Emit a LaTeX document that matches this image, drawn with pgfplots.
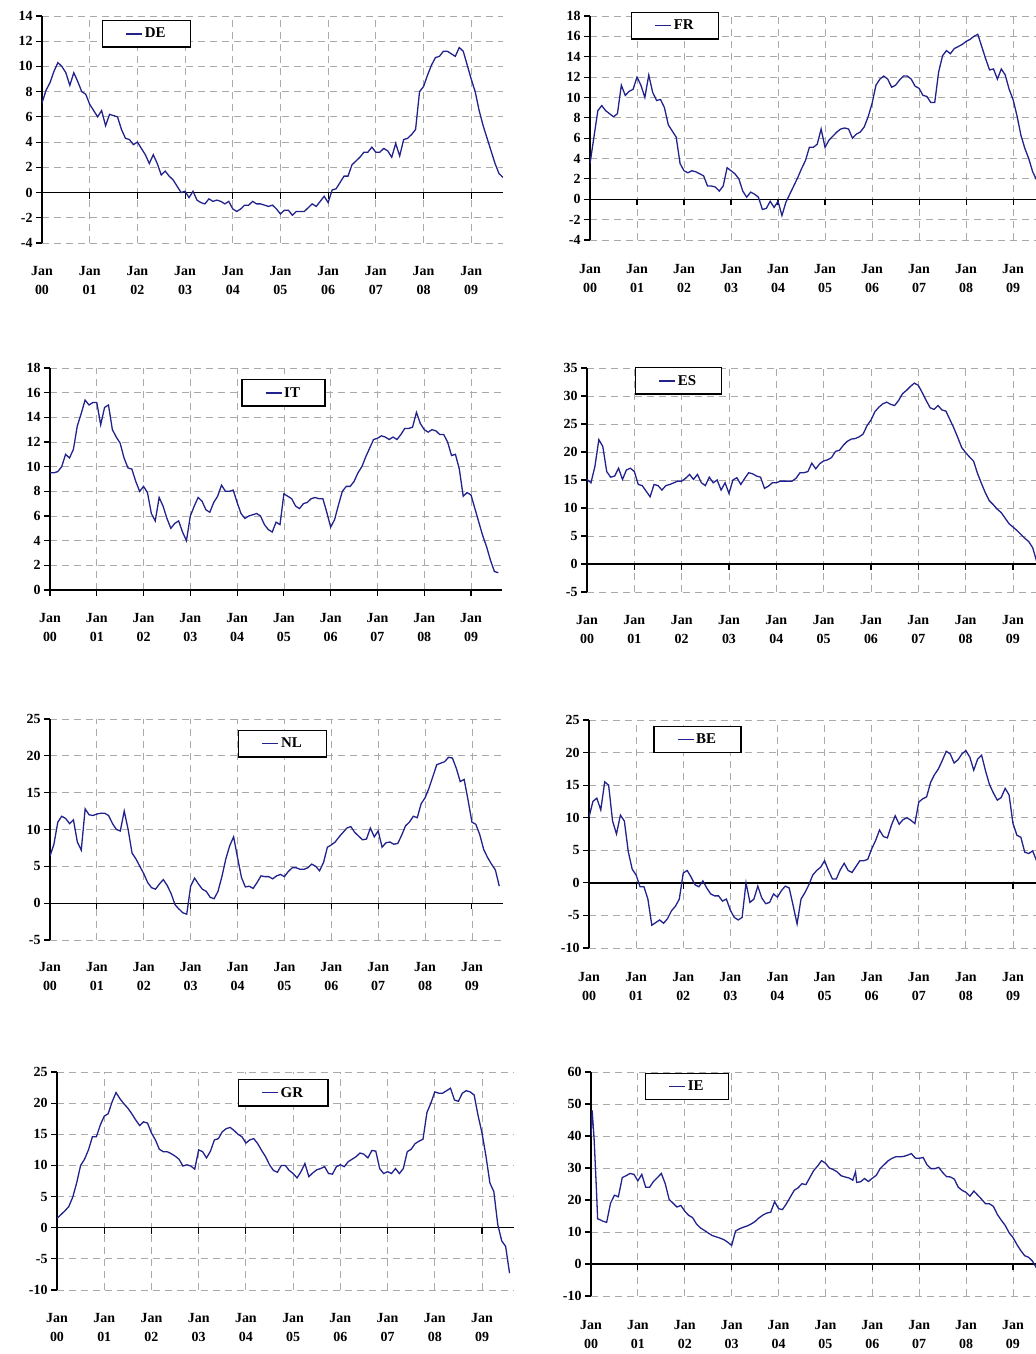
\documentclass[border=0pt]{standalone}
\usepackage{fontspec}
\setmainfont{Liberation Serif}
\usepackage{pgfplots}
\usepackage{pgfplotstable}
\pgfplotsset{compat=1.18}

\definecolor{serie}{RGB}{34,34,140}
\definecolor{gridgray}{RGB}{170,170,170}

% monthly values, month 0 = Jan 2000
\pgfplotstableread{
m   DE    FR    IT    ES    NL    BE    GR
0   7.1   3.5   9.5   15.1  6.4   10.1  1.5
1   8.1   6.1   9.5   14.5  8.0   12.5  2.1
2   8.7   8.7   9.6   17.4  11.0  13.0  2.7
3   9.6   9.2   10.0  22.2  11.8  11.2  3.4
4   10.3  8.7   11.0  21.0  11.5  15.5  4.9
5   10.0  8.4   10.7  16.5  10.8  15.0  7.2
6   9.5   8.1   11.4  15.5  11.3  9.5   10.0
7   8.5   8.4   13.3  15.7  8.3   7.5   11.0
8   9.5   11.2  14.3  17.1  7.2   10.4  12.5
9   8.8   10.2  15.4  15.1  12.8  9.5   14.6
10  8.0   10.6  15.0  16.8  12.0  4.8   14.6
11  7.8   10.8  15.2  17.1  11.9  2.1   16.5
12  7.0   12.0  15.2  16.5  12.1  1.2   17.9
13  6.5   11.2  13.4  14.2  12.2  -0.6  18.3
14  6.0   10.0  14.8  14.0  12.2  -0.6  20.2
15  6.5   12.2  15.0  13.0  11.9  -2.5  21.7
16  5.3   10.5  13.0  12.0  10.8  -6.5  20.7
17  6.2   9.7   12.4  14.2  10.0  -6.1  19.9
18  6.1   9.8   11.9  14.0  9.8   -5.7  19.2
19  6.0   9.0   10.7  13.2  12.5  -6.2  18.3
20  5.0   7.3   9.9   14.0  10.0  -5.5  17.3
21  4.3   6.7   9.8   14.2  6.8   -4.3  16.4
22  4.2   6.1   8.8   14.5  6.0   -3.6  17.0
23  3.8   3.5   8.0   14.8  5.0   -2.5  16.8
24  4.0   2.8   8.4   14.8  4.0   1.5   15.2
25  3.5   2.6   7.9   15.3  2.8   1.9   14.1
26  3.0   2.8   6.2   16.0  2.1   0.9   12.6
27  2.3   2.7   5.6   15.1  1.9   -0.3  12.2
28  3.0   2.5   7.5   16.0  2.6   -0.6  12.2
29  2.3   2.3   6.8   14.5  3.2   0.3   11.9
30  1.4   1.3   5.8   14.0  2.4   -0.8  11.5
31  1.7   1.3   5.0   15.5  1.3   -1.7  11.0
32  1.3   1.2   5.4   14.5  -0.2  -2.0  9.9
33  1.0   0.8   5.6   15.0  -0.8  -2.0  10.1
34  0.5   1.3   4.7   13.2  -1.3  -2.8  9.9
35  0.0   3.1   4.0   14.5  -1.5  -2.5  9.4
36  0.1   2.8   6.0   12.6  2.3   -4.2  12.5
37  -0.4  2.5   6.8   15.0  3.4   -5.3  12.2
38  0.1   2.0   7.5   15.4  2.6   -5.7  11.2
39  -0.6  0.8   7.2   14.2  1.9   -5.3  12.3
40  -0.8  0.2   6.5   15.3  1.6   0.0   14.1
41  -0.9  0.7   6.3   16.3  0.8   -3.0  14.3
42  -0.5  0.5   7.1   16.1  0.6   -2.5  15.4
43  -0.7  0.2   7.6   15.7  1.6   -0.5  15.9
44  -0.6  -1.0  8.5   15.5  3.6   -2.3  16.1
45  -0.7  -0.9  8.0   13.5  6.0   -3.2  15.6
46  -0.9  -0.2  8.0   13.9  7.8   -3.0  15.0
47  -0.7  -0.8  8.1   14.5  9.0   -1.7  14.6
48  -1.3  -0.2  7.1   14.5  6.2   -2.2  13.6
49  -1.5  -1.6  6.2   14.8  3.5   -1.2  14.1
50  -1.3  -0.3  5.8   14.8  2.2   -0.5  14.3
51  -1.0  0.5   6.0   14.8  2.3   -0.8  13.5
52  -1.0  1.3   6.1   14.8  2.0   -3.5  12.4
53  -0.7  2.1   6.2   15.3  2.8   -6.3  11.4
54  -0.9  3.0   6.0   16.3  3.7   -2.5  10.1
55  -0.9  3.8   5.3   16.3  3.6   -1.5  9.2
56  -1.0  5.1   4.9   16.5  3.6   -0.3  8.9
57  -1.1  5.1   4.7   18.0  3.3   1.2   10.0
58  -1.0  5.4   5.5   17.0  3.7   1.9   10.0
59  -1.3  6.9   5.3   17.9  3.9   2.4   9.2
60  -1.7  5.1   7.8   18.4  3.6   3.4   8.7
61  -1.4  5.8   7.6   18.6  4.3   1.9   8.0
62  -1.4  6.2   7.4   19.0  4.8   0.6   9.0
63  -1.8  6.6   6.8   20.1  4.8   0.6   10.3
64  -1.5  6.9   6.6   20.3  4.6   2.0   8.2
65  -1.5  7.0   7.0   21.2  4.6   3.0   8.8
66  -1.5  6.9   7.1   21.9  4.8   1.9   9.3
67  -1.2  6.0   7.4   22.3  5.3   1.6   9.5
68  -0.9  6.4   7.5   22.4  5.0   2.5   9.8
69  -1.1  6.6   7.4   22.7  4.4   3.4   8.7
70  -0.7  7.1   7.4   23.2  5.5   3.4   8.6
71  -0.3  8.1   6.3   24.7  7.6   3.6   9.8
72  -0.8  9.4   5.1   25.7  7.9   5.2   10.1
73  0.2   11.2  5.7   27.2  8.3   6.5   9.8
74  0.3   11.8  6.9   28.0  9.0   8.1   10.6
75  0.8   12.1  8.0   28.6  9.6   7.1   11.0
76  1.3   11.8  8.4   28.9  10.2  6.9   11.4
77  1.3   11.0  8.4   28.5  10.4  8.8   12.0
78  2.2   11.2  8.8   28.3  9.6   10.3  11.8
79  2.5   11.7  9.5   29.2  9.1   9.0   11.2
80  2.8   12.1  10.0  30.4  8.6   9.7   12.4
81  3.2   12.1  10.8  31.0  8.7   10.0  12.3
82  3.2   11.8  11.5  31.7  10.2  9.6   9.5
83  3.6   11.1  12.2  32.3  9.0   9.1   8.7
84  3.2   10.9  12.3  31.9  9.8   12.4  9.0
85  3.2   10.2  12.5  30.6  7.6   12.9  8.7
86  3.5   10.1  12.4  29.2  8.2   13.2  9.5
87  3.3   9.5   12.2  27.9  8.3   15.4  8.7
88  2.8   9.5   12.4  27.6  8.0   16.6  9.5
89  3.9   12.5  12.2  28.3  8.1   17.5  12.2
90  2.9   14.1  12.6  27.5  9.2   18.8  12.6
91  4.2   14.6  13.1  27.3  10.5  20.2  13.5
92  4.3   14.3  13.1  25.8  11.0  19.8  13.9
93  4.6   14.8  13.2  24.3  11.8  18.4  14.2
94  5.0   15.0  14.4  22.6  11.6  18.9  18.5
95  8.0   15.2  13.5  20.8  13.5  19.8  20.0
96  8.4   15.5  13.0  19.9  14.3  20.3  21.8
97  9.3   15.7  12.8  19.1  15.6  19.3  21.6
98  10.1  16.0  13.0  18.4  17.2  17.3  21.6
99  10.7  16.2  12.9  16.2  18.8  19.0  22.0
100 10.8  15.0  12.6  14.4  19.0  19.6  22.4
101 11.2  13.8  12.6  12.7  19.2  17.2  20.5
102 11.2  12.7  12.0  11.3  19.8  15.1  20.3
103 11.0  12.8  10.9  10.6  19.7  13.8  21.6
104 10.8  11.8  11.0  9.8   18.3  12.7  22.0
105 11.5  12.8  9.8   9.2   16.5  13.1  21.8
106 11.2  12.2  7.6   8.2   16.8  14.5  21.3
107 10.1  10.8  7.9   7.2   14.0  13.5  18.0
108 9.0   9.8   7.7   6.6   11.0  9.1   15.2
109 8.0   8.2   6.6   6.0   10.7  7.3   11.5
110 6.5   6.3   5.5   5.3   9.3   7.0   7.2
111 5.3   5.0   4.4   4.6   7.3   4.7   5.8
112 4.3   4.0   3.5   4.0   6.2   4.5   0.5
113 3.3   2.7   2.4   2.9   5.3   4.9   -2.1
114 2.3   1.9   1.5   0.5   4.5   3.4   -3.0
115 1.5   1.2   1.4   -0.8  2.3   2.5   -7.3
116 1.2   0.7   nan   -2.0  nan   1.5   nan
}\monthly

\pgfplotstableread{
m     IE
0     40.0
0.3   48.0
0.8   39.0
1.4   23.0
1.7   14.1
2     14.0
3     13.4
4     13.0
5     19.0
6     21.5
7     21.0
8     27.0
9     27.6
10    28.3
11    28.0
12    26.0
13    28.0
14    24.0
15    24.0
16    25.8
17    27.0
18    28.3
19    25.1
20    20.2
21    19.0
22    17.8
23    18.3
24    16.5
25    15.2
26    14.5
27    12.5
28    11.3
29    10.5
30    9.7
31    8.9
32    8.5
33    8.1
34    7.6
35    6.8
36    5.8
37    10.3
38    11.0
39    11.5
40    11.9
41    12.5
42    13.3
43    14.4
44    15.3
45    15.9
46    16.2
47    19.5
48    17.3
49    17.0
50    18.8
51    20.9
52    23.0
53    23.8
54    25.1
55    24.8
56    27.0
57    29.2
58    30.6
59    32.3
60    31.5
61    30.0
62    29.5
63    28.8
64    27.6
65    27.2
66    26.9
67    26.2
67.7  28.8
68    25.5
69    25.7
70    26.7
71    25.8
72    26.8
73    27.7
74    29.8
75    31.0
76    32.2
77    33.0
78    33.5
79    33.5
80    33.6
81    34.0
82    34.5
83    33.1
84    33.0
85    33.3
86    31.0
87    29.8
88    29.8
89    30.2
90    28.6
91    27.3
92    27.2
93    26.5
94    24.0
95    23.0
96    22.4
97    21.2
98    22.8
99    21.5
100   20.2
101   18.8
102   18.8
103   18.0
104   15.5
105   13.7
106   12.1
107   9.8
108   8.3
109   6.1
110   4.2
111   2.6
112   2.1
113   0.9
114   -1.2
115   -2.5
116   -3.5
}\ireland

\pgfplotsset{
  panel/.style={
    scale only axis,
    anchor=north west,
    xmin=0, xmax=116,
    axis x line=middle,
    axis y line=left,
    axis line style={-, black, line width=1.3bp},
    hide obscured x ticks=false,
    hide obscured y ticks=false,
    xtick={0,12,...,108},
    xticklabels={{Jan\\00},{Jan\\01},{Jan\\02},{Jan\\03},{Jan\\04},{Jan\\05},{Jan\\06},{Jan\\07},{Jan\\08},{Jan\\09}},
    xticklabel style={align=center, font=\bfseries\fontsize{14}{19}\selectfont},
    yticklabel style={font=\bfseries\fontsize{14}{16}\selectfont},
    /pgf/number format/assume math mode=true,
    tick align=outside,
    major tick length=6bp,
    tick style={black, line width=1.1bp},
    grid=major,
    major grid style={gridgray, dash pattern=on 7bp off 5bp, line width=0.8bp},
    legend cell align=left,
    legend image code/.code={\draw[##1] (0bp,0bp) -- (16bp,0bp);},
    legend style={anchor=north west, draw=black, line width=1.3bp, fill=white,
      inner xsep=23bp, inner ysep=5.5bp,
      font=\bfseries\fontsize{15}{17}\selectfont},
  },
  % x labels sit below the plot area, the axis line itself runs at zero
  labdrop/.style={xticklabel style={yshift=-#1-14bp}},
  series/.style={serie, line width=1.3bp},
}

\begin{document}
\begin{tikzpicture}

% DE
\begin{axis}[panel, at={(42bp,1338bp)}, width=461bp, height=227bp,
  ymin=-4, ymax=14, ytick={-4,-2,...,14}, labdrop=50.7bp,
  legend style={at={(0.13,0.982)}}]
\addplot[series] table[x=m, y=DE] {\monthly};
\addlegendentry{DE}
\end{axis}

% FR
\begin{axis}[panel, at={(590bp,1338bp)}, width=454.4bp, height=224bp,
  ymin=-4, ymax=18, ytick={-4,-2,...,18}, labdrop=41.7bp,
  legend style={at={(0.09,1.018)}}]
\addplot[series] table[x=m, y=FR] {\monthly};
\addlegendentry{FR}
\end{axis}

% IT
\begin{axis}[panel, at={(50bp,986bp)}, width=452.2bp, height=222bp,
  ymin=0, ymax=18, ytick={0,2,...,18}, labdrop=0bp,
  legend style={at={(0.423,0.95)}}]
\addplot[series] table[x=m, y=IT] {\monthly};
\addlegendentry{IT}
\end{axis}

% ES
\begin{axis}[panel, at={(587bp,986bp)}, width=457.5bp, height=224bp,
  ymin=-5, ymax=35, ytick={-5,0,...,35}, labdrop=27.7bp,
  legend style={at={(0.105,1.004)}}]
\addplot[series] table[x=m, y=ES] {\monthly};
\addlegendentry{ES}
\end{axis}

% NL
\begin{axis}[panel, at={(50bp,635bp)}, width=453.2bp, height=221bp,
  ymin=-5, ymax=25, ytick={-5,0,...,25}, labdrop=36bp,
  legend style={at={(0.415,0.95)}}]
\addplot[series] table[x=m, y=NL] {\monthly};
\addlegendentry{NL}
\end{axis}

% BE
\begin{axis}[panel, at={(589bp,634bp)}, width=455.4bp, height=228bp,
  ymin=-10, ymax=25, ytick={-10,-5,...,25}, labdrop=65.7bp,
  legend style={at={(0.141,0.974)}}]
\addplot[series] table[x=m, y=BE] {\monthly};
\addlegendentry{BE}
\end{axis}

% GR
\begin{axis}[panel, at={(57bp,282bp)}, width=456.5bp, height=218bp,
  ymin=-10, ymax=25, ytick={-10,-5,...,25}, labdrop=62.3bp,
  legend style={at={(0.396,0.968)}}]
\addplot[series] table[x=m, y=GR] {\monthly};
\addlegendentry{GR}
\end{axis}

% IE
\begin{axis}[panel, at={(591bp,282bp)}, width=453.2bp, height=224bp,
  ymin=-10, ymax=60, ytick={-10,0,...,60}, labdrop=33bp,
  legend style={at={(0.119,0.996)}}]
\addplot[series] table[x=m, y=IE] {\ireland};
\addlegendentry{IE}
\end{axis}

\pgfresetboundingbox
\path[use as bounding box] (0bp,0bp) rectangle (1036bp,1354bp);
\end{tikzpicture}
\end{document}
